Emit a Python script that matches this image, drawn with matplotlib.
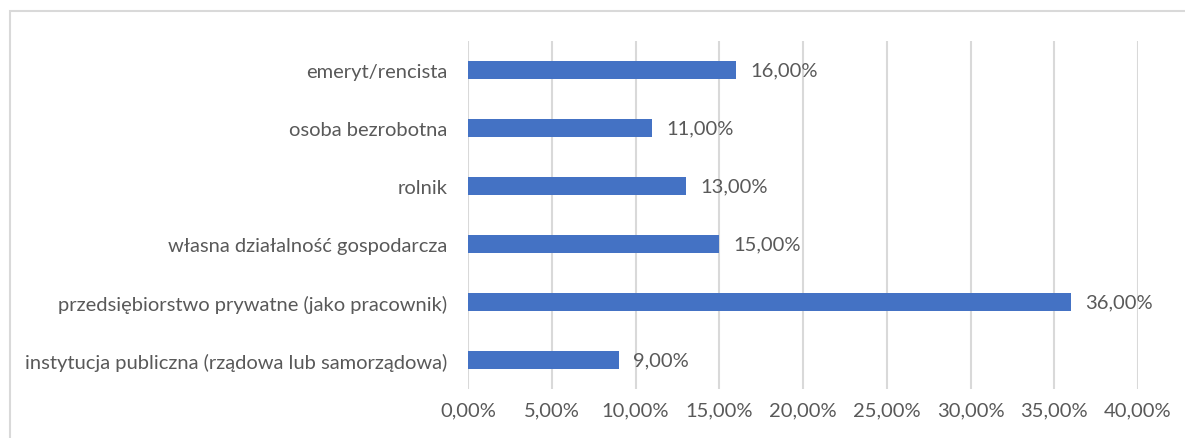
import matplotlib.pyplot as plt
from matplotlib.patches import Rectangle
from matplotlib.ticker import FuncFormatter

categories = [
    "instytucja publiczna (rządowa lub samorządowa)",
    "przedsiębiorstwo prywatne (jako pracownik)",
    "własna działalność gospodarcza",
    "rolnik",
    "osoba bezrobotna",
    "emeryt/rencista",
]
values = [9.0, 36.0, 15.0, 13.0, 11.0, 16.0]
xticks = [0, 5, 10, 15, 20, 25, 30, 35, 40]

TEXT = "#595959"
GRID = "#d9d9d9"
BAR = "#4472C4"
FS = 14.5

plt.rcParams["font.family"] = ["Lato", "DejaVu Sans"]

fig = plt.figure(figsize=(11.85, 4.39), dpi=100)
ax = fig.add_axes([468 / 1185, 1 - 390 / 439, (1138 - 468) / 1185, 348 / 439])

pos = range(len(categories))
ax.barh(pos, values, height=0.31, color=BAR, zorder=3)
for y, v in zip(pos, values):
    ax.text(v + 0.85, y, f"{v:.2f}%".replace(".", ","), va="center", ha="left",
            fontsize=FS, color=TEXT)

ax.set_xlim(0, 40)
ax.set_ylim(-0.5, len(categories) - 0.5)
ax.set_xticks(xticks)
ax.xaxis.set_major_formatter(FuncFormatter(lambda x, _: f"{x:.2f}%".replace(".", ",")))
ax.set_yticks(list(pos))
ax.set_yticklabels(categories)
ax.tick_params(length=0, labelsize=FS, colors=TEXT)
ax.tick_params(axis="x", pad=9)
ax.tick_params(axis="y", pad=15)
ax.grid(axis="x", color=GRID, lw=1.5, zorder=0)
for s in ax.spines.values():
    s.set_visible(False)

fig.patches.append(Rectangle((10 / 1185, -0.1), 1.2, 1 - 12 / 439 + 0.1,
                             transform=fig.transFigure, fill=False,
                             edgecolor=GRID, lw=1.5))

fig.savefig("out.png", dpi=100)
